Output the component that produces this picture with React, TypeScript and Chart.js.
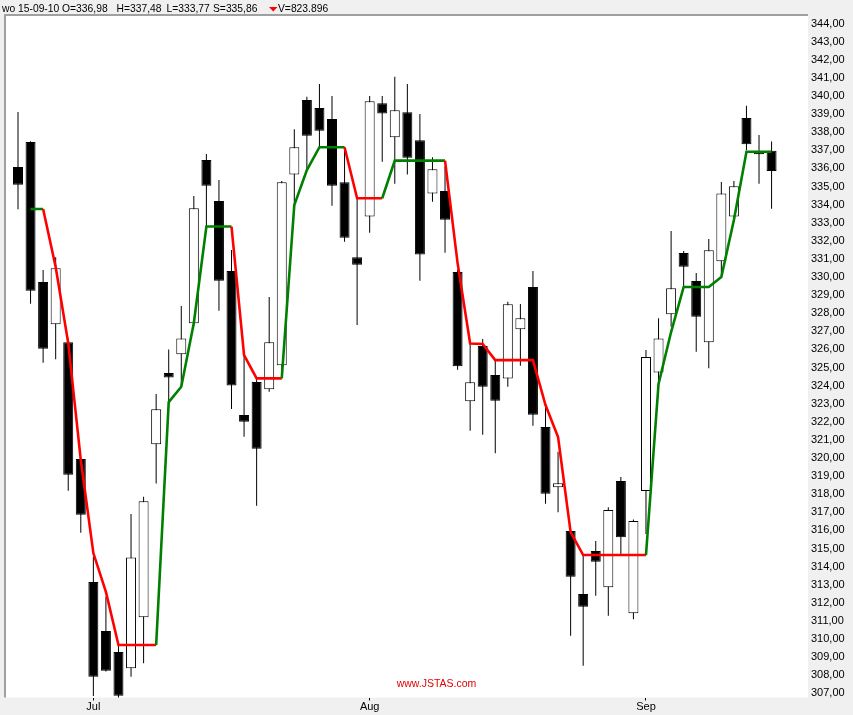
import React, { useEffect, useRef } from "react";
import { Chart, registerables } from "chart.js";

Chart.register(...registerables);

// Trading days (dd-mm-yy)
const dates = [
  "23-06-10", "24-06-10", "25-06-10", "28-06-10", "29-06-10", "30-06-10",
  "01-07-10", "02-07-10", "05-07-10", "06-07-10", "07-07-10", "08-07-10", "09-07-10",
  "12-07-10", "13-07-10", "14-07-10", "15-07-10", "16-07-10", "19-07-10", "20-07-10",
  "21-07-10", "22-07-10", "23-07-10", "26-07-10", "27-07-10", "28-07-10", "29-07-10", "30-07-10",
  "02-08-10", "03-08-10", "04-08-10", "05-08-10", "06-08-10", "09-08-10", "10-08-10",
  "11-08-10", "12-08-10", "13-08-10", "16-08-10", "17-08-10", "18-08-10", "19-08-10",
  "20-08-10", "23-08-10", "24-08-10", "25-08-10", "26-08-10", "27-08-10", "30-08-10", "31-08-10",
  "01-09-10", "02-09-10", "03-09-10", "06-09-10", "07-09-10", "08-09-10", "09-09-10",
  "10-09-10", "13-09-10", "14-09-10", "15-09-10",
];

const opens = [
  336.08, 337.46, 329.72, 327.39, 326.4, 319.94, 313.15, 310.44, 309.28, 308.38,
  311.2, 320.76, 324.7, 325.73, 327.44, 336.46, 334.2, 330.33, 322.38, 324.2,
  323.8, 325.12, 335.67, 339.78, 339.34, 338.73, 335.23, 331.09, 333.35, 339.6,
  337.72, 339.1, 337.55, 334.62, 334.75, 330.28, 323.13, 326.19, 324.59, 324.4,
  327.11, 329.45, 321.71, 318.38, 315.97, 312.49, 314.86, 312.86, 318.73, 311.42,
  318.18, 324.72, 327.94, 331.33, 329.78, 326.39, 330.87, 333.35, 338.78, 336.96,
  336.98,
];
const highs = [
  339.12, 337.5, 330.39, 331.09, 326.6, 320.0, 314.55, 312.34, 309.61, 316.91,
  317.86, 323.54, 326.0, 328.4, 334.48, 336.8, 335.36, 331.49, 325.69, 324.4,
  328.9, 335.3, 338.16, 339.96, 340.66, 340.0, 337.17, 334.35, 340.0, 340.0,
  341.07, 340.66, 339.01, 336.61, 336.1, 330.4, 326.28, 326.57, 325.41, 328.64,
  328.51, 330.33, 322.83, 320.35, 316.0, 314.64, 315.41, 317.28, 318.95, 316.6,
  325.97, 327.72, 332.54, 331.44, 330.22, 332.1, 335.25, 335.3, 339.46, 337.85,
  337.48,
];
const lows = [
  333.74, 328.52, 325.27, 325.45, 318.19, 315.87, 306.85, 308.2, 306.6, 307.92,
  308.66, 318.59, 323.14, 323.94, 327.3, 332.78, 328.14, 322.71, 321.18, 317.36,
  323.66, 324.6, 334.07, 335.9, 337.2, 333.94, 331.95, 327.35, 332.45, 336.37,
  335.15, 335.67, 329.8, 334.16, 331.34, 324.88, 321.51, 321.29, 320.26, 323.94,
  325.1, 321.78, 317.48, 317.0, 310.18, 308.52, 312.39, 311.29, 314.64, 311.09,
  315.8, 324.2, 327.25, 329.5, 325.87, 324.96, 330.1, 333.2, 337.0, 335.15,
  333.77,
];
const closes = [
  335.1, 329.24, 326.04, 330.48, 319.07, 316.87, 307.92, 308.25, 306.87, 314.51,
  317.61, 322.69, 324.45, 326.61, 333.8, 335.04, 329.8, 324.0, 322.01, 320.51,
  326.39, 335.23, 337.17, 337.81, 338.08, 335.04, 332.17, 330.68, 339.71, 339.04,
  339.21, 336.59, 331.25, 335.95, 333.17, 325.07, 324.18, 323.94, 323.17, 328.49,
  327.72, 322.39, 318.03, 318.6, 313.44, 311.78, 314.27, 317.13, 315.62, 316.52,
  325.58, 326.61, 329.38, 330.57, 327.81, 331.48, 334.62, 335.01, 337.33, 336.78,
  335.86,
];
const lastVolume = "823.896";

// Trailing stop line and its state per segment start (G = up/green, R = down/red)
const stopLine = [
  null, 333.76, 333.76, 330.55, 326.35, 319.89, 314.75, 312.6, 309.67, 309.67,
  309.67, 309.67, 323.09, 323.94, 327.46, 332.79, 332.79, 332.79, 325.69, 324.4,
  324.4, 324.4, 333.98, 335.91, 337.17, 337.17, 337.17, 334.35, 334.35, 334.35,
  336.43, 336.43, 336.43, 336.43, 336.43, 330.77, 326.33, 326.3, 325.41, 325.41,
  325.41, 325.41, 322.93, 321.16, 315.91, 314.64, 314.64, 314.64, 314.64, 314.64,
  314.64, 324.09, 326.96, 329.45, 329.45, 329.45, 330.0, 333.15, 336.92, 336.92,
  336.92,
];
const stopState = [
  "-", "G", "R", "R", "R", "R", "R", "R", "R", "R",
  "R", "G", "G", "G", "G", "G", "G", "R", "R", "R",
  "R", "G", "G", "G", "G", "G", "R", "R", "R", "G",
  "G", "G", "G", "G", "R", "R", "R", "R", "R", "R",
  "R", "R", "R", "R", "R", "R", "R", "R", "R", "R",
  "G", "G", "G", "G", "G", "G", "G", "G", "G", "G",
  "G",
];

const monthNames: Record<string, string> = { "07": "Jul", "08": "Aug", "09": "Sep" };

const fmt = (v: number) => v.toFixed(2).replace(".", ",");
const FONT = '"Liberation Sans", Arial, sans-serif';

export default function App() {
  const ref = useRef<HTMLCanvasElement>(null);

  useEffect(() => {
    if (!ref.current) return;
    const idx = dates.map((_, i) => i);
    const monthTicks: number[] = [];
    for (let i = 1; i < dates.length; i++) {
      if (dates[i].slice(3, 5) !== dates[i - 1].slice(3, 5)) monthTicks.push(i);
    }
    const last = dates.length - 1;

    const framePlugin = {
      id: "frame",
      beforeDraw(chart: any) {
        const { ctx, chartArea: a, width, height } = chart;
        ctx.save();
        ctx.fillStyle = "#f0f0f0";
        ctx.fillRect(0, 0, width, height);
        ctx.fillStyle = "#ffffff";
        ctx.fillRect(a.left, a.top, a.right - a.left, a.bottom - a.top);
        ctx.fillStyle = "#a0a0a0";
        ctx.fillRect(a.left - 2, a.top - 2, a.right - a.left + 2, 2);
        ctx.fillRect(a.left - 2, a.top - 2, 2, a.bottom - a.top + 2);
        ctx.restore();
      },
      afterDraw(chart: any) {
        const { ctx } = chart;
        ctx.save();
        ctx.font = `10.3px ${FONT}`;
        ctx.fillStyle = "#000";
        ctx.textBaseline = "alphabetic";
        ctx.textAlign = "left";
        ctx.fillText(`wo ${dates[last]} O=${fmt(opens[last])}`, 2, 11.5);
        ctx.fillText(`H=${fmt(highs[last])}`, 116.5, 11.5);
        ctx.fillText(`L=${fmt(lows[last])}`, 166.5, 11.5);
        ctx.fillText(`S=${fmt(closes[last])}`, 213, 11.5);
        ctx.fillStyle = "#ff0000";
        ctx.beginPath();
        ctx.moveTo(269, 7);
        ctx.lineTo(277.5, 7);
        ctx.lineTo(273.25, 11.5);
        ctx.closePath();
        ctx.fill();
        ctx.fillStyle = "#000";
        ctx.fillText(`V=${lastVolume}`, 278, 11.5);
        // watermark
        ctx.fillStyle = "#e00000";
        ctx.font = `10.5px ${FONT}`;
        ctx.textAlign = "center";
        ctx.textBaseline = "middle";
        ctx.fillText("www.JSTAS.com", 436.5, 684);
        ctx.restore();
      },
    };

    const chart = new Chart(ref.current, {
      type: "bar",
      data: {
        datasets: [
          {
            type: "line",
            data: idx.map((i) => ({ x: i, y: stopLine[i] })),
            borderWidth: 2.6,
            pointRadius: 0,
            borderColor: "#ff0000",
            segment: {
              borderColor: (c: any) => (stopState[c.p0DataIndex] === "G" ? "#008000" : "#ff0000"),
            },
            order: 0,
          } as any,
          {
            type: "bar",
            data: idx.map((i) => ({ x: i, y: [Math.min(opens[i], closes[i]), Math.max(opens[i], closes[i])] })),
            backgroundColor: idx.map((i) => (closes[i] >= opens[i] ? "#ffffff" : "#000000")),
            borderColor: "#000000",
            borderWidth: 1,
            borderSkipped: false,
            barThickness: 10,
            grouped: false,
            inflateAmount: 0,
            order: 1,
          } as any,
          {
            type: "bar",
            data: idx.map((i) => ({ x: i, y: [lows[i], highs[i]] })),
            backgroundColor: "#000000",
            borderWidth: 0,
            barThickness: 1,
            grouped: false,
            inflateAmount: 0,
            order: 2,
          } as any,
        ],
      },
      options: {
        responsive: false,
        animation: false,
        devicePixelRatio: 1,
        layout: { padding: { top: 16, left: 6, right: 0, bottom: 0 } },
        plugins: { legend: { display: false }, tooltip: { enabled: false } },
        scales: {
          x: {
            type: "linear",
            min: -0.955,
            max: 62.9,
            offset: false,
            grid: { display: true, offset: false, drawOnChartArea: false, drawTicks: true, tickLength: 3, color: "#000" },
            border: { display: false },
            afterBuildTicks: (scale: any) => {
              scale.ticks = monthTicks.map((v) => ({ value: v }));
            },
            afterFit: (scale: any) => {
              scale.height = 17.5;
            },
            ticks: {
              autoSkip: false,
              maxRotation: 0,
              padding: 0,
              color: "#000",
              font: { family: FONT, size: 11 },
              callback: (v: any) => monthNames[dates[Number(v)]?.slice(3, 5)] ?? "",
            },
          },
          y: {
            type: "linear",
            position: "right",
            min: 306.77,
            max: 344.42,
            grid: { display: false, drawTicks: false },
            border: { display: false },
            afterBuildTicks: (scale: any) => {
              const t = [];
              for (let v = Math.ceil(scale.min); v <= Math.floor(scale.max); v++) t.push({ value: v });
              scale.ticks = t;
            },
            afterFit: (scale: any) => {
              scale.width = 45;
            },
            ticks: {
              autoSkip: false,
              padding: 3,
              color: "#000",
              font: { family: FONT, size: 11 },
              callback: (v: any) => fmt(Number(v)),
            },
          },
        },
      } as any,
      plugins: [framePlugin],
    });

    return () => chart.destroy();
  }, []);

  return (
    <div style={{ position: "fixed", left: 0, top: 0, width: 853, height: 715 }}>
      <canvas ref={ref} width={853} height={715} style={{ display: "block" }} />
    </div>
  );
}
